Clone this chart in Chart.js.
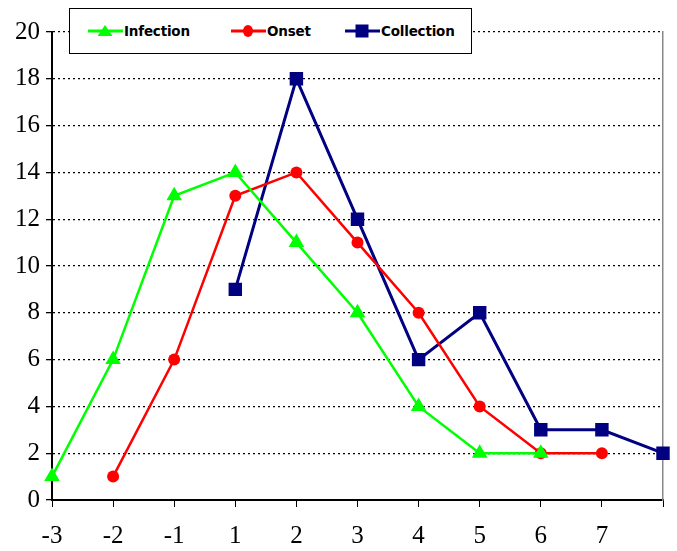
<!DOCTYPE html>
<html>
<head>
<meta charset="utf-8">
<script src="https://cdn.jsdelivr.net/npm/chart.js@4.4.1/dist/chart.umd.min.js"></script>
<style>
  html, body { margin: 0; padding: 0; background: #fff; }
  #wrap { position: relative; width: 677px; height: 551px; }
  #legend {
    position: absolute; left: 69px; top: 8px; width: 403px; height: 46px;
    border: 1px solid #000; background: #fff; box-sizing: border-box;
    font: bold 13.5px "DejaVu Sans", Verdana, sans-serif; letter-spacing: -0.2px;
  }
  .item { position: absolute; top: 0; height: 44px; display: flex; align-items: center; }
  .item svg { margin-right: 1px; }
</style>
</head>
<body>
<div id="wrap">
  <canvas id="chart" width="677" height="551"></canvas>
  <div id="legend"></div>
</div>
<script>
// days relative to event
const xLabels = ["-3", "-2", "-1", "1", "2", "3", "4", "5", "6", "7", ""];
const infection = [1, 6, 13, 14, 11, 8, 4, 2, 2, null, null];
const onset = [null, 1, 6, 13, 14, 11, 8, 4, 2, 2, null];
const collection = [null, null, null, 9, 18, 12, 6, 8, 3, 3, 2];

const series = [
  { label: "Infection", data: infection, color: "#00ff00", style: "triangle", radius: 9 },
  { label: "Onset", data: onset, color: "#ff0000", style: "circle", radius: 6 },
  { label: "Collection", data: collection, color: "#000080", style: "rect", radius: 9.5 },
];

const tickFont = { family: "Liberation Serif", size: 25 };

const ctx = document.getElementById("chart").getContext("2d");
new Chart(ctx, {
  type: "line",
  data: {
    labels: xLabels,
    datasets: series.map((s) => ({
      label: s.label,
      data: s.data,
      borderColor: s.color,
      backgroundColor: s.color,
      borderWidth: s.style === "rect" ? 3 : 2.5,
      pointStyle: s.style,
      pointRadius: s.radius,
      pointBorderWidth: 0,
      tension: 0,
    })),
  },
  options: {
    responsive: false,
    animation: false,
    layout: { padding: { top: 32, right: 5, left: 0, bottom: 0 } },
    plugins: {
      legend: { display: false },
      tooltip: { enabled: false },
    },
    scales: {
      x: {
        offset: false,
        grid: {
          drawOnChartArea: false,
          drawTicks: true,
          tickLength: 7,
          tickColor: "#000",
          tickWidth: 1,
        },
        border: { color: "#000", width: 2 },
        ticks: {
          color: "#000",
          font: tickFont,
          autoSkip: false,
          maxRotation: 0,
          padding: 14,
        },
        afterFit: (scale) => { scale.height = 51; },
      },
      y: {
        min: 0,
        max: 20,
        grid: {
          color: "#000",
          lineWidth: 1.3,
          tickLength: 6,
          tickBorderDash: [],
          tickColor: "#000",
        },
        border: { color: "#000", width: 2, dash: [2, 3] },
        ticks: {
          color: "#000",
          font: tickFont,
          stepSize: 2,
          padding: 6,
        },
        afterFit: (scale) => { scale.width = 52; },
      },
      y2: {
        position: "right",
        min: 0,
        max: 20,
        grid: { display: false },
        ticks: { display: false },
        border: { color: "#888", width: 1.5 },
      },
    },
  },
});

// legend drawn as html on top of the plot
const legend = document.getElementById("legend");
const itemLeft = [18, 161, 275];
series.forEach((s, i) => {
  const item = document.createElement("div");
  item.className = "item";
  item.style.left = itemLeft[i] + "px";
  let marker = "";
  if (s.style === "triangle") marker = '<polygon points="17,2 24.5,13 9.5,13" fill="' + s.color + '"/>';
  else if (s.style === "circle") marker = '<ellipse cx="17" cy="8" rx="5" ry="6" fill="' + s.color + '"/>';
  else marker = '<rect x="10.5" y="1.5" width="13" height="13" fill="' + s.color + '"/>';
  item.innerHTML =
    '<svg width="35" height="16" viewBox="0 0 35 16"><line x1="0" y1="8" x2="35" y2="8" stroke="' +
    s.color + '" stroke-width="3"/>' + marker + "</svg><span>" + s.label + "</span>";
  legend.appendChild(item);
});
</script>
</body>
</html>
